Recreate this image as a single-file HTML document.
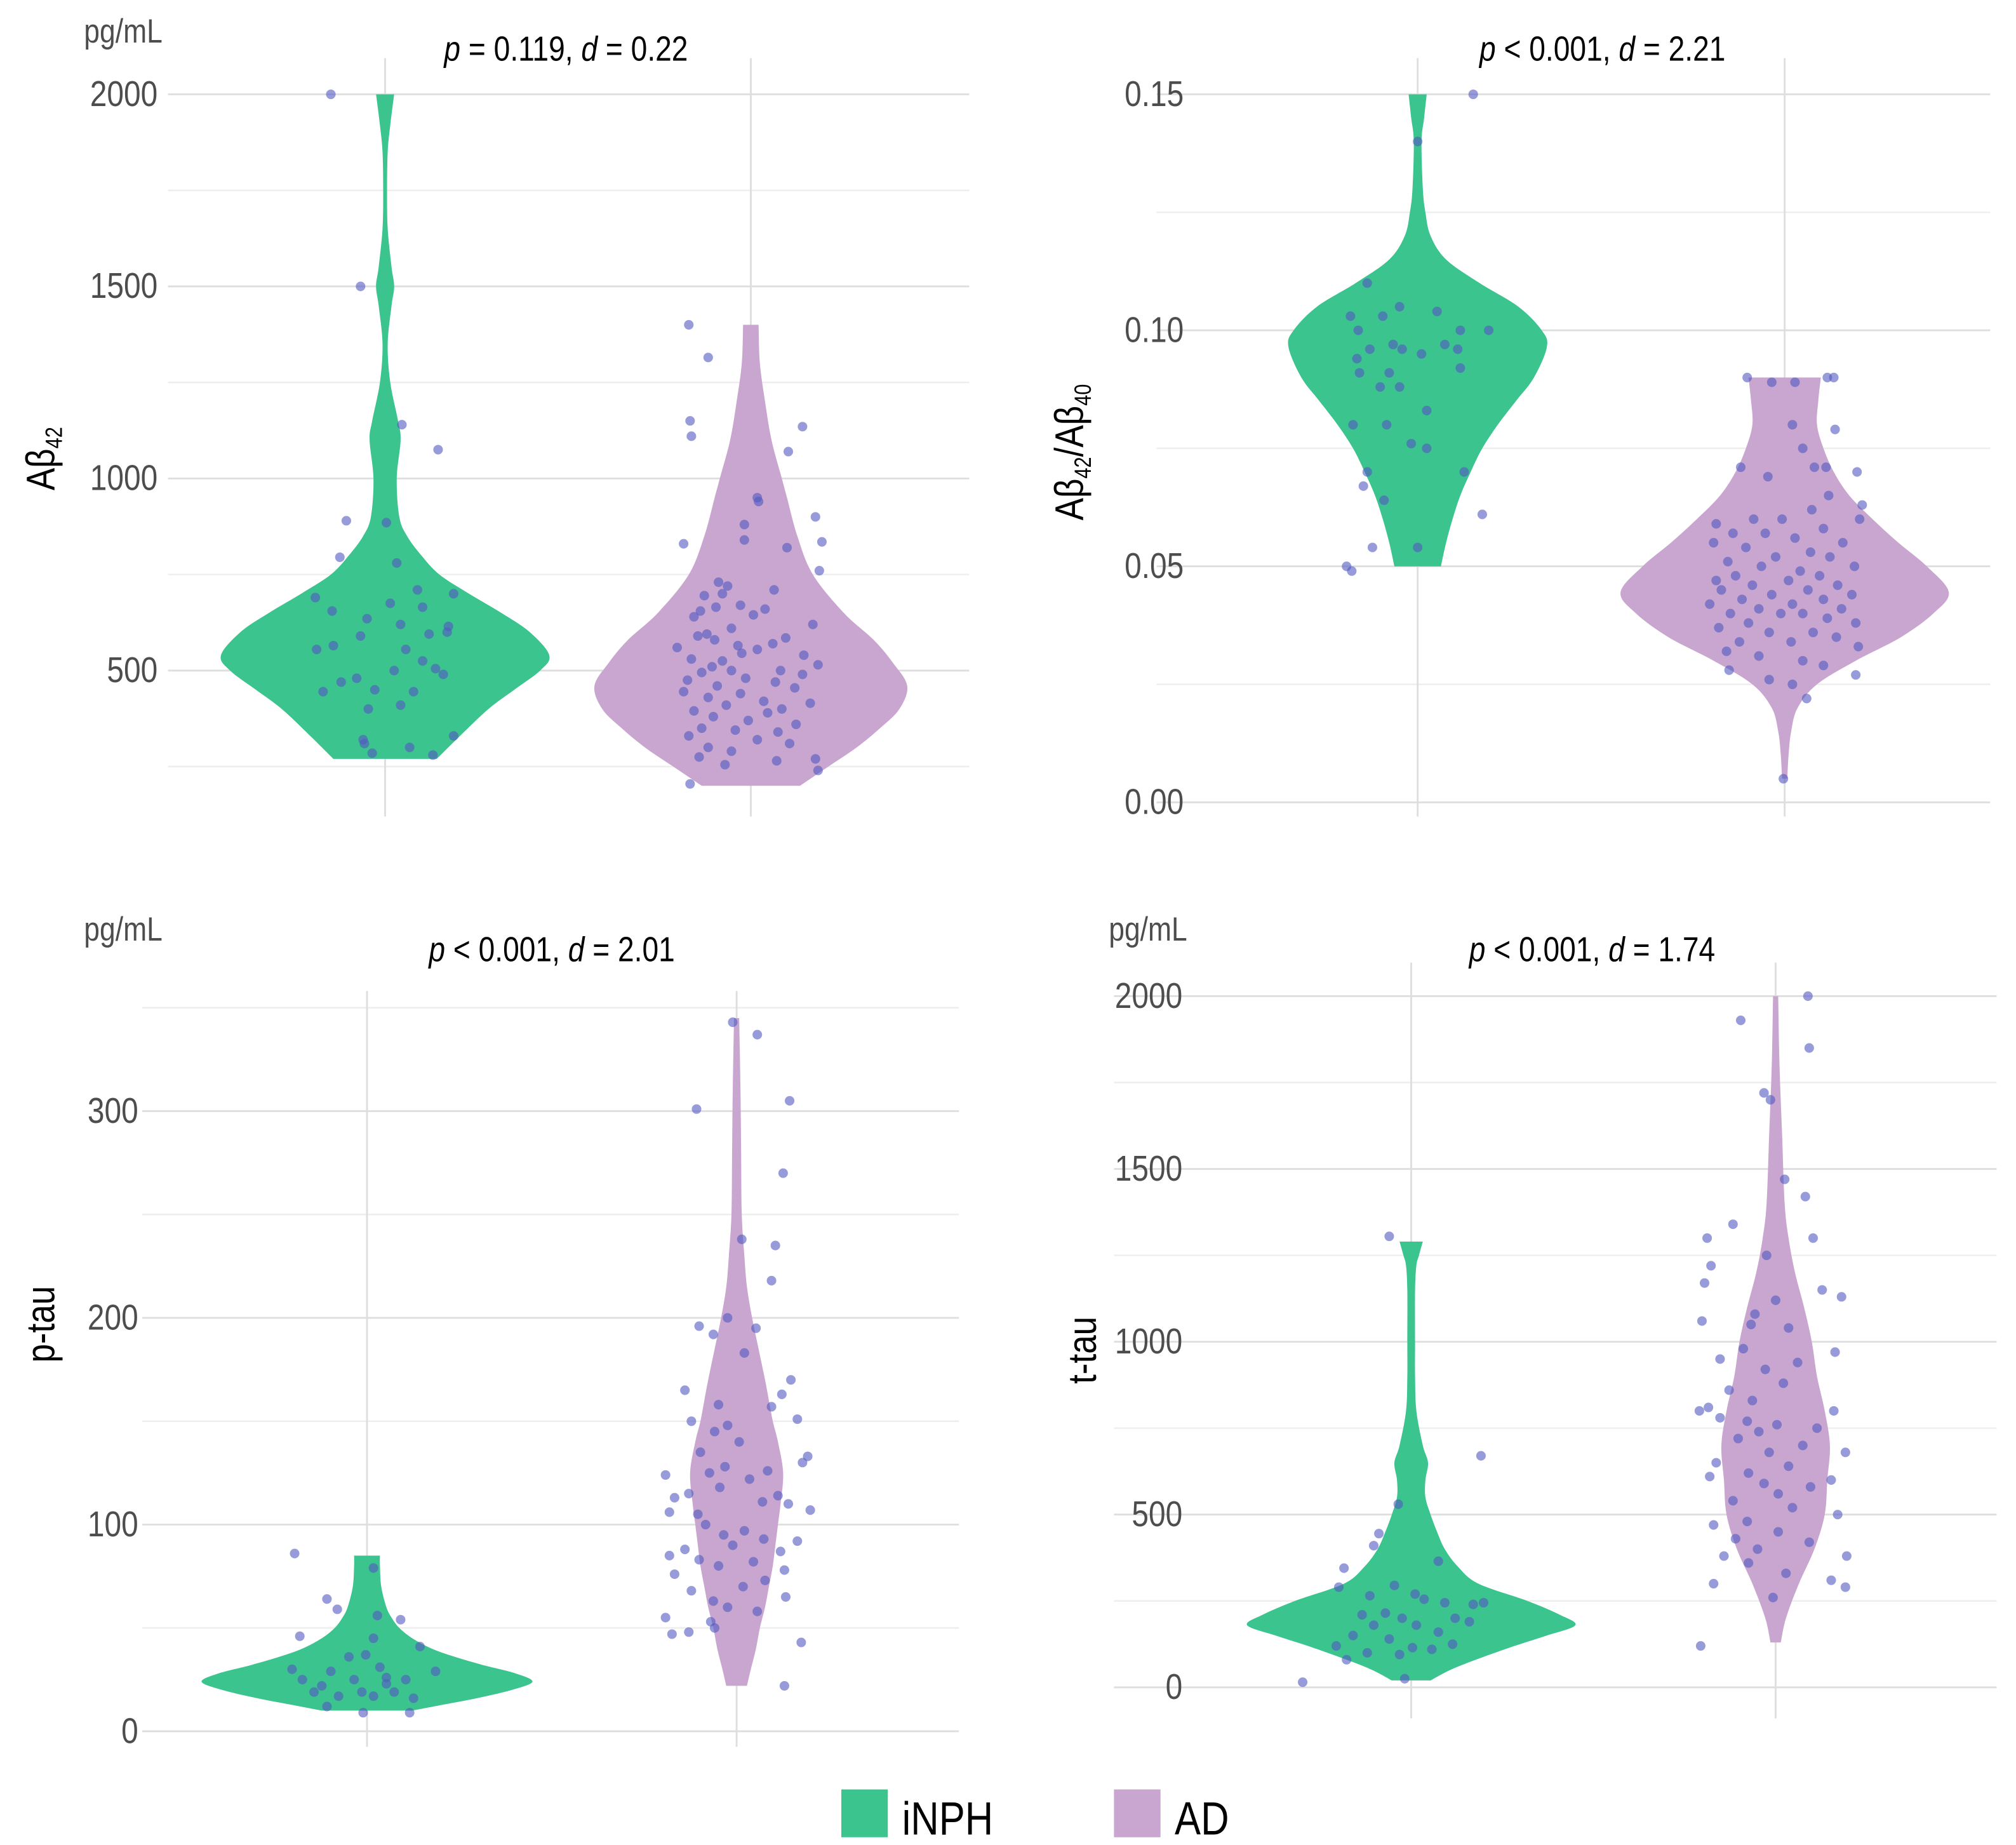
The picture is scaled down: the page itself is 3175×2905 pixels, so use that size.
<!DOCTYPE html>
<html><head><meta charset="utf-8"><style>
html,body{margin:0;padding:0;background:#fff;}
svg{display:block;}
text{font-family:"Liberation Sans Narrow","Liberation Sans",sans-serif;}
</style></head><body>
<svg id="chart" xmlns="http://www.w3.org/2000/svg" width="3175" height="2905" viewBox="0 0 1560 1428" preserveAspectRatio="none">
<g id="root"></g>
</svg>
<script>
// ---------- data ----------
const groups = ["iNPH", "AD"];
const groupColors = ["#3cc48f", "#c9a6cf"];

// Panel 1: Abeta42 (pg/mL)
const p1Ticks = [500, 1000, 1500, 2000];
const p1ViolinINPH = [[270,40],[330,58],[400,80],[450,100],[500,120],[540,127],[600,112],[650,90],[700,65],[750,42],[800,28],[850,17],[900,11],[1000,9],[1100,12],[1150,10],[1250,4],[1350,2],[1450,5],[1500,7],[1550,5],[1650,2],[1750,1.5],[1850,2],[1920,4],[2000,7]];
const p1ViolinAD = [[200,38],[250,60],[300,82],[350,100],[400,115],[460,121],[520,110],[580,95],[650,72],[750,48],[850,36],[950,28],[1000,24],[1100,16],[1200,11],[1300,7],[1400,6]];
const p1PtsINPH = [[2000,-42],[1500,-19],[1140,13],[1075,41],[890,-30],[885,1],[795,-35],[780,9],[690,-54],[710,25],[700,53],[655,-41],[675,4],[635,-14],[665,29],[620,12],[615,49],[595,34],[590,-19],[600,48],[565,-40],[555,-53],[555,16],[525,29],[505,39],[500,7],[490,45],[480,-22],[470,-34],[450,-8],[445,-48],[445,22],[410,12],[400,-13],[320,-17],[330,53],[310,-16],[300,19],[280,37],[285,-10]];
const p1PtsAD = [[1400,-48],[1315,-33],[1150,-47],[1110,-46],[1135,40],[1070,29],[950,5],[940,6],[900,50],[880,-5],[830,-52],[840,-5],[835,55],[820,28],[760,53],[730,-25],[720,-18],[710,18],[700,-22],[695,-36],[670,-8],[665,-27],[660,11],[655,-39],[645,2],[640,-44],[620,48],[610,-15],[595,-34],[590,-41],[585,27],[580,-28],[570,17],[565,-10],[560,-57],[555,5],[545,-7],[540,41],[530,-46],[525,-22],[515,52],[510,-30],[500,-15],[500,23],[495,-38],[490,40],[480,-4],[475,-49],[470,19],[460,-26],[455,34],[445,-52],[440,-8],[430,-33],[420,10],[415,46],[410,-19],[400,24],[395,-44],[390,13],[380,-29],[370,-2],[360,35],[350,-38],[345,-12],[340,21],[330,-48],[320,5],[310,30],[300,-33],[290,-15],[275,-40],[270,50],[265,20],[255,-20],[240,52],[205,-47]];

// Panel 2: Abeta42/Abeta40
const p2Ticks = [0.00, 0.05, 0.10, 0.15];
const p2ViolinINPH = [[0.050,18],[0.055,22],[0.060,27],[0.065,33],[0.070,41],[0.075,50],[0.080,62],[0.085,76],[0.090,90],[0.0965,100],[0.100,96],[0.105,78],[0.110,48],[0.115,22],[0.120,10],[0.125,6],[0.130,4],[0.140,3],[0.145,5],[0.150,7]];
const p2ViolinAD = [[0.005,2],[0.010,3],[0.015,5],[0.020,10],[0.025,25],[0.030,55],[0.035,90],[0.040,115],[0.0445,127],[0.050,110],[0.055,88],[0.060,68],[0.065,50],[0.070,38],[0.075,30],[0.080,25],[0.085,26],[0.090,28]];
const p2PtsINPH = [[0.150,43],[0.140,0],[0.110,-39],[0.103,-52],[0.105,-14],[0.103,-27],[0.104,15],[0.100,-46],[0.100,33],[0.100,55],[0.097,-19],[0.097,21],[0.096,-37],[0.096,-12],[0.094,-47],[0.095,3],[0.096,31],[0.091,-45],[0.092,33],[0.091,-22],[0.088,-29],[0.088,-14],[0.080,-50],[0.083,7],[0.080,-24],[0.076,-5],[0.075,7],[0.070,36],[0.070,-39],[0.067,-42],[0.064,-26],[0.061,50],[0.054,-35],[0.054,0],[0.050,-55],[0.049,-51]];
const p2PtsAD = [[0.09,-29],[0.089,-10],[0.089,8],[0.09,33],[0.09,38],[0.08,6],[0.079,39],[0.075,14],[0.071,-34],[0.071,32],[0.071,23],[0.07,56],[0.069,-13],[0.065,34],[0.063,60],[0.062,21],[0.06,-24],[0.06,-2],[0.06,58],[0.059,-53],[0.058,30],[0.057,-40],[0.057,-15],[0.056,8],[0.055,-55],[0.055,45],[0.054,-30],[0.053,20],[0.052,-7],[0.052,35],[0.051,-44],[0.05,54],[0.05,-18],[0.049,12],[0.048,-38],[0.048,27],[0.047,-53],[0.047,3],[0.046,41],[0.046,-25],[0.045,-49],[0.045,18],[0.044,-10],[0.044,52],[0.043,-33],[0.043,30],[0.042,6],[0.042,-58],[0.041,-20],[0.041,44],[0.04,-42],[0.04,14],[0.04,-3],[0.039,33],[0.038,-28],[0.038,55],[0.037,-51],[0.036,-12],[0.036,22],[0.035,40],[0.034,-35],[0.034,5],[0.033,57],[0.032,-45],[0.031,-20],[0.03,14],[0.029,30],[0.028,-43],[0.027,55],[0.026,-12],[0.025,6],[0.022,17],[0.005,-1]];

// Panel 3: p-tau (pg/mL)
const p3Ticks = [0, 100, 200, 300];
const p3ViolinINPH = [[10,35],[13,60],[16,85],[20,112],[24,128],[28,115],[32,90],[36,68],[40,50],[45,35],[50,25],[55,19],[60,15],[70,11],[80,10],[85,10]];
const p3ViolinAD = [[22,8],[30,11],[40,15],[50,18],[60,22],[70,25],[80,28],[90,30],[100,32],[110,34],[125,36],[140,32],[150,28],[160,25],[170,22],[185,17],[200,12],[215,8],[230,6],[250,4],[280,3.5],[310,3],[345,2]];
const p3PtsINPH = [[86,-56],[79,5],[64,-31],[59,-23],[46,-52],[56,8],[54,26],[45,5],[41,41],[30,-58],[29,53],[29,-28],[36,-14],[37,-1],[31,10],[25,-50],[22,-35],[25,-10],[26,15],[19,21],[19,-41],[17,-22],[17,5],[16,36],[12,-31],[9,-3],[9,33],[23,15],[25,30],[19,-4]];
const p3PtsAD = [[343,-3],[337,16],[301,-31],[305,41],[270,36],[238,4],[235,30],[218,27],[200,-7],[196,-29],[192,-18],[195,15],[183,6],[165,-40],[170,42],[163,35],[158,-14],[157,27],[151,47],[150,-35],[148,-7],[145,-17],[140,2],[135,-28],[133,55],[130,51],[128,-9],[125,-21],[126,24],[124,-55],[122,10],[118,-13],[115,-37],[114,32],[113,-48],[111,20],[110,40],[107,57],[106,-52],[105,-30],[100,-24],[97,6],[95,-10],[93,21],[92,47],[90,-3],[88,-40],[87,34],[85,-52],[83,-29],[82,13],[80,-14],[78,37],[76,-48],[73,22],[70,5],[68,-35],[65,38],[63,-18],[60,-7],[58,16],[55,-55],[53,-20],[50,-17],[48,-37],[47,-50],[43,50],[22,37]];

// Panel 4: t-tau (pg/mL)
const p4Ticks = [0, 500, 1000, 1500, 2000];
const p4ViolinINPH = [[20,15],[50,30],[80,50],[120,80],[150,105],[180,127],[210,115],[250,90],[300,52],[350,36],[400,26],[450,20],[500,15],[550,11],[600,11],[650,13],[700,9],[800,4],[900,3],[1000,3],[1150,3],[1220,4],[1250,6],[1290,9]];
const p4ViolinAD = [[130,4],[200,8],[300,18],[400,30],[500,38],[600,40],[700,42],[800,38],[900,32],[1000,28],[1100,22],[1200,15],[1300,10],[1400,7],[1600,5],[1800,3],[2000,2]];
const p4PtsINPH = [[1305,-17],[670,54],[530,-10],[445,-25],[410,-29],[345,-52],[365,21],[290,-56],[295,-13],[270,3],[265,-32],[255,10],[245,26],[240,48],[245,56],[215,-20],[210,-38],[200,-7],[200,34],[190,45],[180,-29],[180,4],[150,-45],[160,21],[140,-17],[120,-58],[125,32],[115,1],[110,16],[100,-34],[80,-50],[95,-9],[15,-84],[25,-5]];
const p4PtsAD = [[2000,25],[1930,-27],[1850,26],[1720,-9],[1700,-4],[1470,7],[1420,23],[1340,-33],[1300,-53],[1300,29],[1250,-7],[1220,-50],[1170,-55],[1150,36],[1130,51],[1120,0],[1080,-16],[1060,-57],[1050,-19],[1040,10],[980,-25],[970,46],[950,-43],[940,17],[920,-8],[880,6],[860,-36],[830,-18],[810,-52],[800,-59],[800,45],[780,-43],[770,-22],[760,1],[750,32],[740,-13],[720,-29],[700,21],[680,-5],[680,54],[650,-46],[640,10],[620,-21],[610,-51],[600,43],[590,-9],[580,27],[560,2],[540,-33],[520,13],[500,48],[480,-22],[470,-48],[450,2],[430,-31],[420,26],[400,-14],[380,-40],[380,55],[360,-21],[330,8],[310,43],[300,-48],[290,54],[260,-2],[120,-58]];

// ---------- layout ----------
const NS = "http://www.w3.org/2000/svg";
const root = document.getElementById("root");
const CONDENSE = 0.84;
function mk(tag, attrs, parent) {
  const e = document.createElementNS(NS, tag);
  for (const k in attrs) e.setAttribute(k, attrs[k]);
  (parent || root).appendChild(e);
  return e;
}
function ctext(x, y, attrs, parent) {
  attrs.x = 0; attrs.y = 0;
  attrs.transform = "translate(" + x + "," + y + ") scale(" + CONDENSE + ",1)";
  return mk("text", attrs, parent);
}
// smooth path through points (Catmull-Rom)
function smooth(pts) {
  let d = "M" + pts[0][0] + "," + pts[0][1];
  for (let i = 0; i < pts.length - 1; i++) {
    const p0 = pts[Math.max(0, i - 1)], p1 = pts[i], p2 = pts[i + 1], p3 = pts[Math.min(pts.length - 1, i + 2)];
    const c1x = p1[0] + (p2[0] - p0[0]) / 6, c1y = p1[1] + (p2[1] - p0[1]) / 6;
    const c2x = p2[0] - (p3[0] - p1[0]) / 6, c2y = p2[1] - (p3[1] - p1[1]) / 6;
    d += "C" + c1x + "," + c1y + " " + c2x + "," + c2y + " " + p2[0] + "," + p2[1];
  }
  return d;
}

const panels = [
  {key:"abeta42", ticks:p1Ticks, fmt:v=>String(v), v0:500, y0:519, v1:2000, y1:73, gx0:130, gx1:750, vy0:45, vy1:632, cx:[298,581], labX:122,
   violins:[p1ViolinINPH,p1ViolinAD], pts:[p1PtsINPH,p1PtsAD], unit:[65,25], title:["p = 0.119, ","d = 0.22"], titleX:438, titleY:38, yTitle:"Aβ", sub1:"42", sub2:null, yTitleX:32, yTitleY:355, minorStep:250, yMin:200, yMax:2000},
  {key:"abeta-ratio", ticks:p2Ticks, fmt:v=>v.toFixed(2), v0:0, y0:621, v1:0.15, y1:73, gx0:895, gx1:1540, vy0:45, vy1:632, cx:[1097,1381], labX:916,
   violins:[p2ViolinINPH,p2ViolinAD], pts:[p2PtsINPH,p2PtsAD], unit:null, title:["p < 0.001, ","d = 2.21"], titleX:1240, titleY:38, yTitle:"Aβ", sub1:"42", sub2:"40", yTitleX:828, yTitleY:350, minorStep:0.025, yMin:0, yMax:0.15},
  {key:"p-tau", ticks:p3Ticks, fmt:v=>String(v), v0:0, y0:1340, v1:300, y1:860, gx0:110, gx1:742, vy0:767, vy1:1352, cx:[284,570], labX:107,
   violins:[p3ViolinINPH,p3ViolinAD], pts:[p3PtsINPH,p3PtsAD], unit:[65,720], title:["p < 0.001, ","d = 2.01"], titleX:427, titleY:735, yTitle:"p-tau", sub1:null, sub2:null, yTitleX:32, yTitleY:1025, minorStep:50, yMin:0, yMax:350},
  {key:"t-tau", ticks:p4Ticks, fmt:v=>String(v), v0:0, y0:1306, v1:2000, y1:771, gx0:862, gx1:1545, vy0:745, vy1:1330, cx:[1092,1374], labX:915,
   violins:[p4ViolinINPH,p4ViolinAD], pts:[p4PtsINPH,p4PtsAD], unit:[858,720], title:["p < 0.001, ","d = 1.74"], titleX:1232, titleY:735, yTitle:"t-tau", sub1:null, sub2:null, yTitleX:838, yTitleY:1045, minorStep:250, yMin:0, yMax:2000}
];

panels.forEach((P, pi) => {
  const y = v => P.y0 + (v - P.v0) * (P.y1 - P.y0) / (P.v1 - P.v0);
  const g = mk("g", {});
  
  
  for (let v = P.ticks[0] + P.minorStep; v < P.yMax + 1e-9; v += P.minorStep * 2) {
    const yy = y(v);
    if (yy < P.vy0) continue;
    const l = mk("line", {x1:P.gx0, x2:P.gx1, y1:yy, y2:yy, stroke:"#eeeeee", "stroke-width":1.2}, g);
    
    
  }
  if (pi === 0) {
    const l = mk("line", {x1:P.gx0, x2:P.gx1, y1:y(250), y2:y(250), stroke:"#eeeeee", "stroke-width":1.2}, g);
    
    
  }
  P.ticks.forEach(t => {
    const yy = y(t);
    const l = mk("line", {x1:P.gx0, x2:P.gx1, y1:yy, y2:yy, stroke:"#dedede", "stroke-width":1.4}, g);
    
    
    const tx = ctext(P.labX, yy + 9, {"text-anchor":"end", "font-size":28, fill:"#4d4d4d"}, g);
    tx.textContent = P.fmt(t);
    
    
  });
  P.cx.forEach(cx => {
    const l = mk("line", {x1:cx, x2:cx, y1:P.vy0, y2:P.vy1, stroke:"#dedede", "stroke-width":1.4}, g);
    
    
  });
  P.violins.forEach((vd, gi) => {
    const cx = P.cx[gi];
    const right = vd.map(p => [cx + p[1], y(p[0])]);
    const left = vd.slice().reverse().map(p => [cx - p[1], y(p[0])]);
    let dR = smooth(right);
    let dL = smooth(left).replace(/^M/, "L");
    const path = mk("path", {d:dR + dL + "Z", fill:groupColors[gi], stroke:"none"}, g);
    
    
  });
  P.pts.forEach((pts, gi) => {
    const cx = P.cx[gi];
    pts.forEach(p => {
      const c = mk("circle", {cx:cx + p[1], cy:y(p[0]), r:3.7, fill:"#5258c2", "fill-opacity":0.6}, g);
      
      
    });
  });
  if (P.unit) {
    const u = ctext(P.unit[0], P.unit[1] + 8, {"font-size":26, fill:"#4d4d4d"}, g);
    u.textContent = "pg/mL";
    
    
  }
  const t = ctext(P.titleX, P.titleY + 9, {"text-anchor":"middle", "font-size":27, fill:"#000"}, g);
  
  
  const s1 = mk("tspan", {"font-style":"italic"}, t); s1.textContent = "p";
  const s2 = mk("tspan", {}, t); s2.textContent = P.title[0].slice(1);
  const s3 = mk("tspan", {"font-style":"italic"}, t); s3.textContent = "d";
  const s4 = mk("tspan", {}, t); s4.textContent = P.title[1].slice(1);
  const yt = mk("text", {x:0, y:0, transform:"translate(" + (P.yTitleX + 10) + "," + P.yTitleY + ") rotate(-90) scale(" + CONDENSE + ",1)", "text-anchor":"middle", "font-size":31, fill:"#000"}, g);
  
  
  const a = mk("tspan", {}, yt); a.textContent = P.yTitle;
  if (P.sub1) { const b = mk("tspan", {"font-size":18, dy:6}, yt); b.textContent = P.sub1; }
  if (P.sub2) {
    const c = mk("tspan", {dy:-6}, yt); c.textContent = "/Aβ";
    const e = mk("tspan", {"font-size":18, dy:6}, yt); e.textContent = P.sub2;
  }
});

const lg = mk("g", {});


const legendX = [651, 862];
groups.forEach((gname, i) => {
  const r = mk("rect", {x:legendX[i], y:1385, width:36, height:37, fill:groupColors[i]}, lg);
  
  
  const t = ctext(legendX[i] + 47, 1420, {"font-size":36, fill:"#000"}, lg);
  t.textContent = gname;
  
  
});
</script>
</body></html>
